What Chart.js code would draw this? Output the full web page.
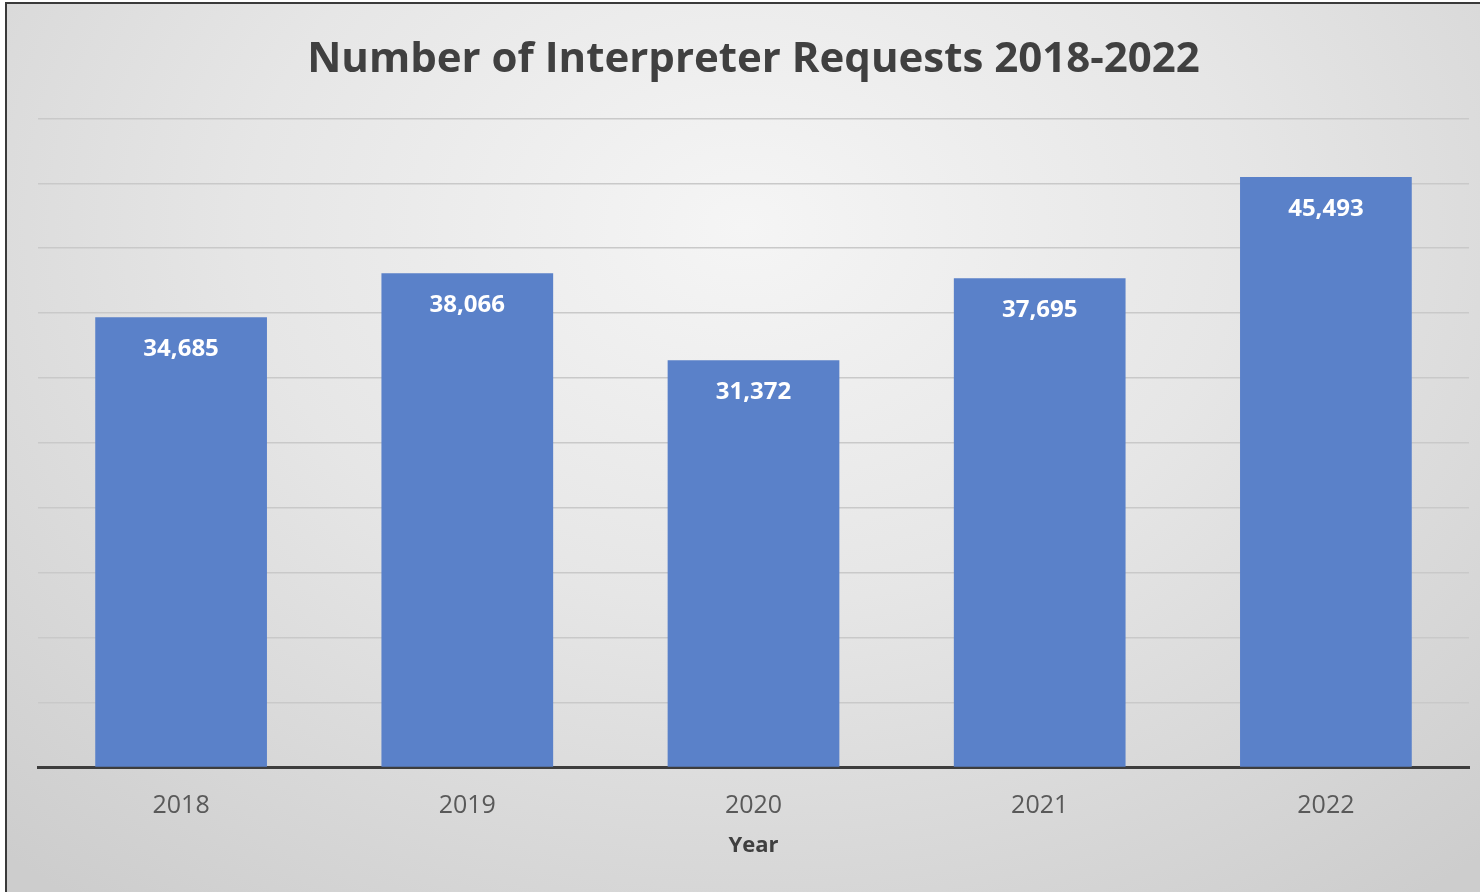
<!DOCTYPE html>
<html>
<head>
<meta charset="utf-8">
<script src="https://cdn.jsdelivr.net/npm/chart.js@4.4.1/dist/chart.umd.min.js"></script>
<style>
  html, body { margin: 0; padding: 0; background: #ffffff; }
  #wrap {
    position: absolute; left: 5px; top: 2px;
    width: 1475px; height: 890px;
    border-top: 2px solid #3a3a3a; border-left: 2px solid #3a3a3a;
    background: radial-gradient(ellipse 75% 95% at 50% 25%, #f5f5f5 0%, #e6e6e6 45%, #cdcdcd 100%);
  }
  #chart { display: block; }
</style>
</head>
<body>
<div id="wrap"><canvas id="chart" width="1475" height="890"></canvas></div>
<script>
// ===== data =====
const years = ["2018", "2019", "2020", "2021", "2022"];
const requests = [34685, 38066, 31372, 37695, 45493];
const yMax = 50000, yStep = 5000;

const FONT = "'Open Sans', 'Noto Sans', sans-serif";

// white numbers drawn just inside the top of each bar
const barLabels = {
  id: "barLabels",
  afterDatasetsDraw(chart) {
    const { ctx } = chart;
    const meta = chart.getDatasetMeta(0);
    ctx.save();
    ctx.fillStyle = "#ffffff";
    ctx.font = "bold 24px " + FONT;
    ctx.textAlign = "center";
    ctx.textBaseline = "middle";
    meta.data.forEach((bar, i) => {
      ctx.fillText(requests[i].toLocaleString("en-US"), bar.x, bar.y + 32);
    });
    ctx.restore();
  }
};

new Chart(document.getElementById("chart"), {
  type: "bar",
  data: {
    labels: years,
    datasets: [{
      label: "Requests",
      data: requests,
      backgroundColor: "#5a81c9",
      borderWidth: 0,
      barPercentage: 0.6,
      categoryPercentage: 1.0
    }]
  },
  options: {
    responsive: false,
    animation: false,
    layout: { padding: { left: 31, right: 13, top: 0, bottom: 31 } },
    plugins: {
      legend: { display: false },
      tooltip: { enabled: false },
      title: {
        display: true,
        text: "Number of Interpreter Requests 2018-2022",
        color: "#404040",
        font: { family: FONT, size: 42, weight: "bold" },
        padding: { top: 31, bottom: 33 }
      }
    },
    scales: {
      x: {
        grid: { display: false, drawTicks: false },
        border: { display: true, color: "#3d3d3d", width: 3 },
        ticks: { color: "#595959", font: { family: FONT, size: 25 }, padding: 23 },
        title: {
          display: true, text: "Year", color: "#404040",
          font: { family: FONT, size: 22, weight: "bold" },
          padding: { top: -11, bottom: 4 }
        }
      },
      y: {
        min: 0, max: yMax,
        ticks: { display: false, stepSize: yStep },
        grid: { color: "#c9c9c9", lineWidth: 1.5, drawTicks: false },
        border: { display: false }
      }
    }
  },
  plugins: [barLabels]
});
</script>
</body>
</html>
